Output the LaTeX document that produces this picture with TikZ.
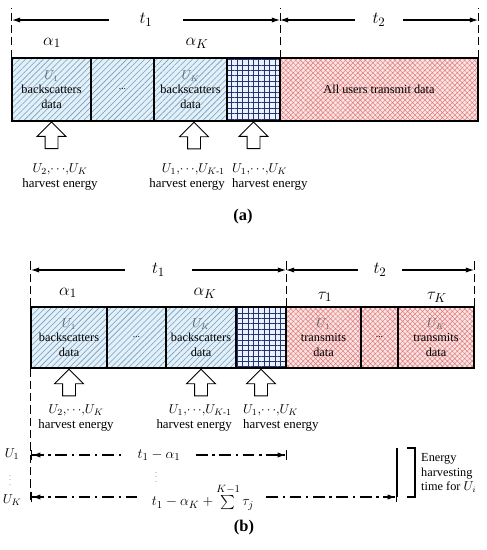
\documentclass[tikz,border=0pt]{standalone}
\usepackage{amsmath}
\usepackage{fontspec}
\setmainfont{Liberation Serif}
\usetikzlibrary{arrows.meta, positioning, patterns.meta, shapes.arrows}

\definecolor{hatchfill}{RGB}{226,240,250}
\definecolor{hatchline}{RGB}{120,155,185}
\definecolor{gridfill}{RGB}{232,242,255}
\definecolor{gridline}{RGB}{40,50,110}
\definecolor{redfill}{RGB}{250,228,228}
\definecolor{redline}{RGB}{225,120,120}
\definecolor{ulabel}{RGB}{95,100,110}

\begin{document}
\begin{tikzpicture}[
    x=0.03cm, y=-0.03cm,
    slot/.style={
        draw, line width=1pt, inner sep=0pt, align=center,
        font=\fontsize{10.5}{12.5}\selectfont
    },
    backslot/.style={slot, preaction={fill=hatchfill},
        pattern={Lines[angle=45, distance=3.6pt, line width=0.5pt]}, pattern color=hatchline},
    gridslot/.style={slot, preaction={fill=gridfill},
        pattern={Hatch[angle=0, distance=4.6pt, line width=0.5pt]}, pattern color=gridline},
    sendslot/.style={slot, preaction={fill=redfill},
        pattern={Hatch[angle=45, distance=3pt, line width=0.4pt]}, pattern color=redline},
    rowa/.style={minimum height=1.89cm},
    rowb/.style={minimum height=1.83cm},
    harvest/.style={
        single arrow, draw, line width=0.8pt, fill=white, rotate=90, anchor=tip,
        minimum height=0.8cm, single arrow head extend=0.24cm, inner sep=0.18cm
    },
    harvestlbl/.style={align=center, inner sep=0pt, font=\fontsize{11}{13}\selectfont},
    mlabel/.style={inner sep=0pt, font=\fontsize{15}{17}\selectfont},
    gaplabel/.style={fill=white, inner ysep=1pt, font=\fontsize{15}{17}\selectfont},
    rangelbl/.style={gaplabel, inner ysep=0pt, font=\fontsize{12.5}{14}\selectfont},
    guide/.style={line width=1pt, dash pattern=on 7pt off 3.5pt},
    span/.style={{Latex[length=7pt, width=4.5pt]}-{Latex[length=7pt, width=4.5pt]}, line width=0.9pt},
    rangeline/.style={
        {Bar[width=9pt]Latex[length=7pt, width=4.5pt]}-{Latex[length=7pt, width=4.5pt]Bar[width=9pt]},
        line width=1pt, dash pattern=on 10pt off 4pt on 2pt off 4pt
    },
    caption/.style={font=\bfseries\fontsize{14}{16}\selectfont}
]
\useasboundingbox (0,0) rectangle (487,550);

% ---------------- (a) ----------------
\node[backslot, rowa, minimum width=2.37cm] (a1) at (51.5,89.5)
    {\textcolor{ulabel}{$U_1$}\\backscatters\\data};
\node[backslot, rowa, minimum width=1.89cm] (a2) at (122.5,89.5) {\footnotesize...};
\node[backslot, rowa, minimum width=2.19cm] (a3) at (190.5,89.5)
    {\textcolor{ulabel}{$U_K$}\\backscatters\\data};
\node[gridslot, rowa, minimum width=1.59cm] (a4) at (253.5,89.5) {};
\node[sendslot, rowa, minimum width=5.94cm] (a5) at (379,89.5) {All users transmit data};

\node[mlabel] (al1) at (52,43) {$\alpha_1$};
\node[mlabel] (alK) at (197,43) {$\alpha_K$};

% time spans
\coordinate (ta0) at (12,20);
\coordinate (ta1) at (280,20);
\coordinate (ta2) at (478,20);
\draw[guide] (a1.north west) -- ++(0,-50);
\draw[guide] (a4.north east) -- ++(0,-50);
\draw[guide] (a5.north east) -- ++(0,-50);
\draw[span] (ta1) -- node[gaplabel, inner xsep=26pt]{$t_1$} (ta0);
\draw[span] (ta1) -- node[gaplabel, inner xsep=15pt]{$t_2$} (ta2);

% harvesting users
\node[harvest] (ha1) at (a1.south) {};
\node[harvest] (ha2) at ([xshift=3pt]a3.south) {};
\node[harvest] (ha3) at (a4.south) {};
\node[harvestlbl] (la1) at (60,177) {$U_2{,}{\cdots}{,}U_K$\\harvest energy};
\node[harvestlbl, anchor=east, align=right] (la2) at (225,177) {$U_1{,}{\cdots}{,}U_{K\text{-}1}$\\harvest energy};
\node[harvestlbl, anchor=west, align=left] (la3) at (232,177) {$U_1{,}{\cdots}{,}U_K$\\harvest energy};

\node[caption] (capa) at (243,217) {(a)};

% ---------------- (b) ----------------
\node[backslot, rowb, minimum width=2.28cm] (b1) at (69,337.5)
    {\textcolor{ulabel}{$U_1$}\\backscatters\\data};
\node[backslot, rowb, minimum width=1.77cm] (b2) at (136.5,337.5) {\footnotesize...};
\node[backslot, rowb, minimum width=2.10cm] (b3) at (201,337.5)
    {\textcolor{ulabel}{$U_K$}\\backscatters\\data};
\node[gridslot, rowb, minimum width=1.50cm] (b4) at (261,337.5) {};
\node[sendslot, rowb, minimum width=2.25cm] (b5) at (323.5,337.5)
    {\textcolor{ulabel}{$U_1$}\\transmits\\data};
\node[sendslot, rowb, minimum width=1.11cm] (b6) at (379.5,337.5) {\footnotesize...};
\node[sendslot, rowb, minimum width=2.28cm] (b7) at (436,337.5)
    {\textcolor{ulabel}{$U_K$}\\transmits\\data};

\node[mlabel] (bl1) at (68,293) {$\alpha_1$};
\node[mlabel] (blK) at (205,293) {$\alpha_K$};
\node[mlabel] (tl1) at (325,297) {$\tau_1$};
\node[mlabel] (tlK) at (437,297) {$\tau_K$};

% time spans
\coordinate (tb0) at (31,270);
\coordinate (tb1) at (286,270);
\coordinate (tb2) at (474,270);
\draw[guide] (b1.north west) -- ++(0,-49);
\draw[guide] (b1.south west) -- ++(0,131);
\draw[guide] (b4.north east) -- ++(0,-49);
\draw[guide] (b7.north east) -- ++(0,-49);
\draw[span] (tb1) -- node[gaplabel, inner xsep=23pt]{$t_1$} (tb0);
\draw[span] (tb1) -- node[gaplabel, inner xsep=13pt]{$t_2$} (tb2);

% harvesting users
\node[harvest] (hb1) at (b1.south) {};
\node[harvest] (hb2) at (b3.south) {};
\node[harvest] (hb3) at (b4.south) {};
\node[harvestlbl] (lb1) at (76,418) {$U_2{,}{\cdots}{,}U_K$\\harvest energy};
\node[harvestlbl, anchor=east, align=right] (lb2) at (232,418) {$U_1{,}{\cdots}{,}U_{K\text{-}1}$\\harvest energy};
\node[harvestlbl, anchor=west, align=left] (lb3) at (243,418) {$U_1{,}{\cdots}{,}U_K$\\harvest energy};

% energy harvesting time of each user
\node[harvestlbl] (u1) at (12,454) {$U_1$};
\node[harvestlbl, font=\tiny] (uvd) at (10,477) {$\vdots$};
\node[harvestlbl] (uK) at (12,500) {$U_K$};
\coordinate (e1s) at (31,455);
\coordinate (e1e) at (287,455);
\coordinate (eKs) at (31,497);
\coordinate (eKe) at (397,497);
\draw[rangeline] (e1s) -- node[rangelbl, inner xsep=11pt]{$t_1-\alpha_1$} (e1e);
\node[harvestlbl, font=\tiny] (mvd) at (156,474) {$\vdots$};
\draw[rangeline] (eKs) -- node[rangelbl, inner xsep=10pt, pos=0.47]
    {$t_1-\alpha_K+\sum\limits^{K-1}\tau_j$} (eKe);
\draw[line width=1.5pt] (eKe) -- ++(0,-49);
\draw[line width=1.2pt] (407,448) -- (415,448) -- (415,497) -- (407,497);
\node[harvestlbl, anchor=west, align=left, font=\fontsize{10.5}{12.3}\selectfont] (note) at (421,473)
    {Energy\\harvesting\\time for $U_i$};

\node[caption] (capb) at (244,528) {(b)};

\end{tikzpicture}
\end{document}
